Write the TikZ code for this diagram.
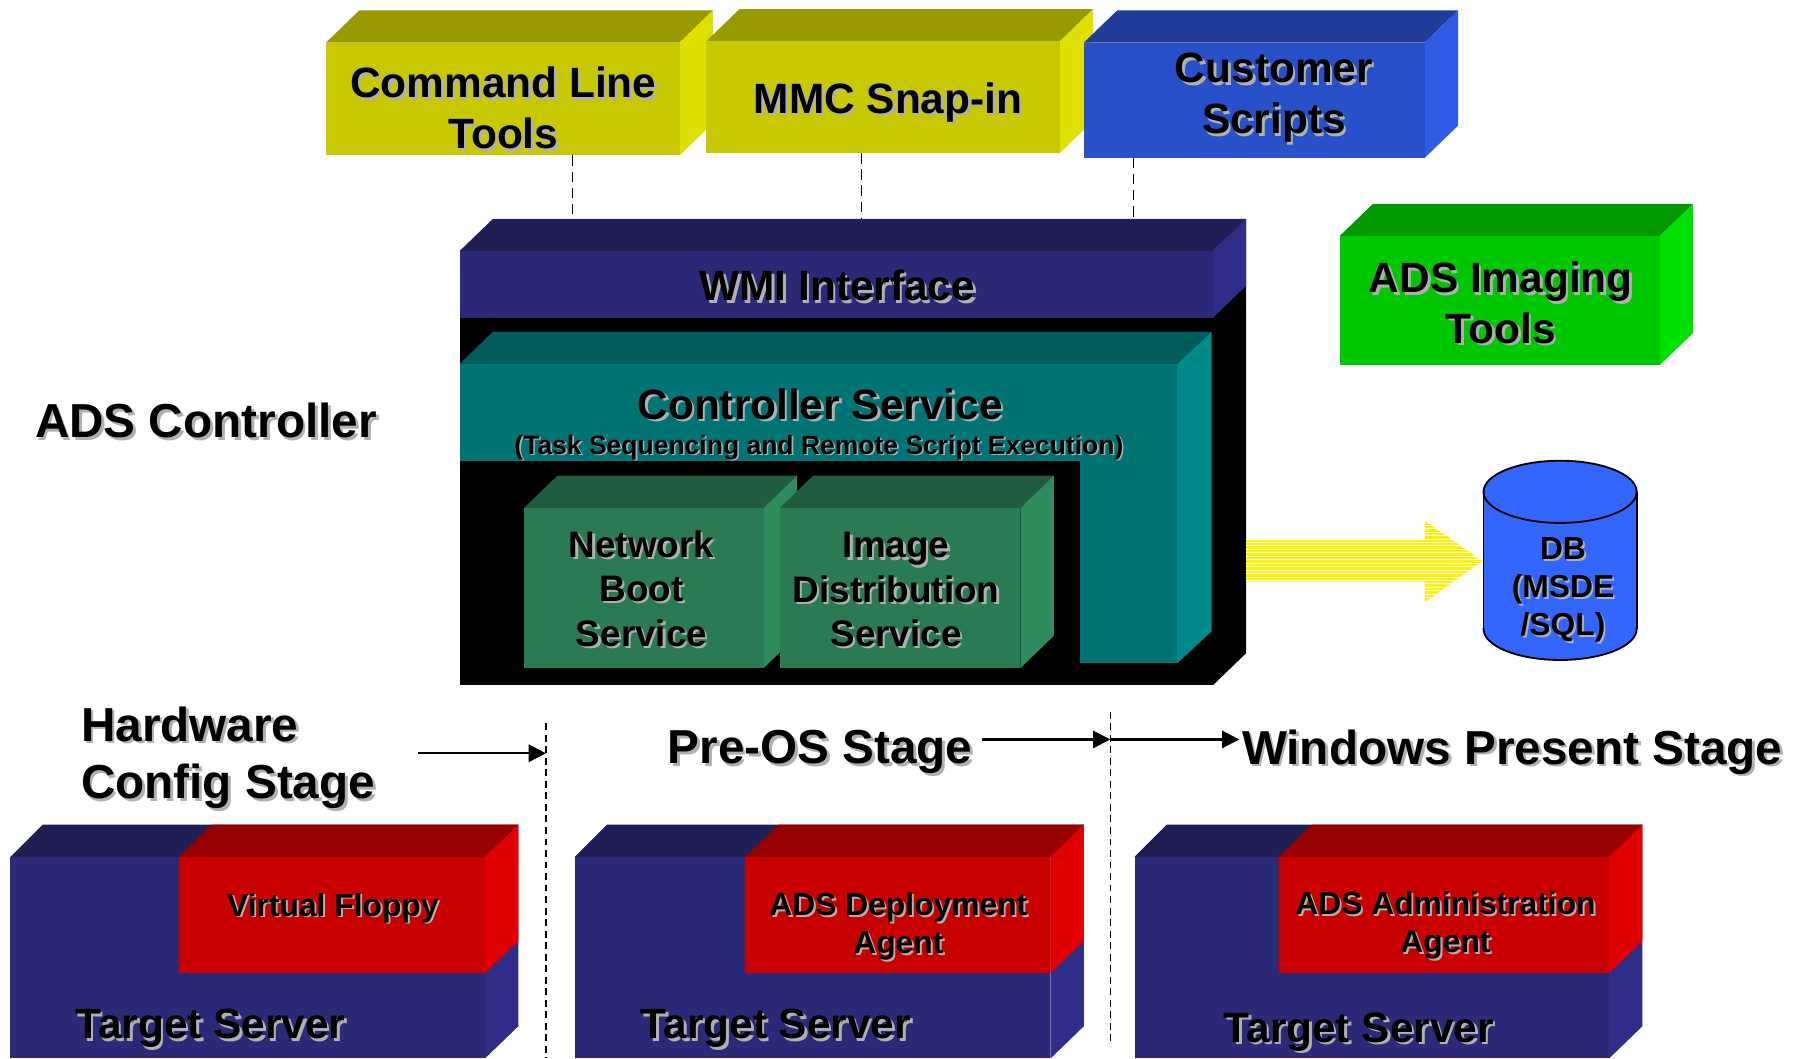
\documentclass[tikz,border=0pt]{standalone}
\usepackage{fontspec}
\setmainfont{Liberation Sans}
\usetikzlibrary{arrows.meta}
\definecolor{olfront}{HTML}{C8C800}
\definecolor{oltop}{HTML}{999900}
\definecolor{olside}{HTML}{E0E000}
\definecolor{csfront}{HTML}{2850C8}
\definecolor{cstop}{HTML}{203C98}
\definecolor{csside}{HTML}{2E5CE6}
\definecolor{nvfront}{HTML}{2A2A78}
\definecolor{nvtop}{HTML}{1F1F55}
\definecolor{nvside}{HTML}{2E2E88}
\definecolor{tlfront}{HTML}{007474}
\definecolor{tltop}{HTML}{005C5C}
\definecolor{tlside}{HTML}{008A8A}
\definecolor{gsfront}{HTML}{2A7A52}
\definecolor{gstop}{HTML}{225C3E}
\definecolor{gsside}{HTML}{2E8C5C}
\definecolor{grfront}{HTML}{00C800}
\definecolor{grtop}{HTML}{009900}
\definecolor{grside}{HTML}{00E000}
\definecolor{rdfront}{HTML}{C80000}
\definecolor{rdtop}{HTML}{990000}
\definecolor{rdside}{HTML}{E00000}
\definecolor{dbblue}{HTML}{3366FF}
\definecolor{shd}{HTML}{B0B0B0}
\newcommand\shtx[1]{\leavevmode\rlap{\kern0.06em\raisebox{-0.06em}{\color{shd}#1}}#1}
% 3D box: name, x1, y1, x2, y2, front, top, side
\newcommand\boxthree[8]{%
  \fill[#7] (#2,#3) -- (#2+29,#3-28) -- (#4+29,#3-28) -- (#4,#3) -- cycle;
  \fill[#8] (#4,#3) -- (#4+29,#3-28) -- (#4+29,#5-28) -- (#4,#5) -- cycle;
  \fill[#6] (#2,#3) rectangle (#4,#5);
  \coordinate (#1-nw) at (#2,#3);
  \coordinate (#1-se) at (#4,#5);}
% target server: x left, red left, right
\newcommand\serverbox[3]{%
  \fill[nvtop] (#1,744) -- (#1+28,716) -- (#3+29,716) -- (#3,744) -- cycle;
  \fill[nvside] (#3,744) -- (#3+29,716) -- (#3+29,891) -- (#3,919) -- cycle;
  \fill[nvfront] (#1,744) rectangle (#3,919);
  \fill[rdtop] (#2,744) -- (#2+29,716) -- (#3+29,716) -- (#3,744) -- cycle;
  \fill[rdside] (#3,744) -- (#3+29,716) -- (#3+29,817) -- (#3,845) -- cycle;
  \fill[rdfront] (#2,744) rectangle (#3,845);}
\begin{document}
\begin{tikzpicture}[x=0.5pt,y=-0.5pt,
  txt/.style={inner sep=0pt, align=center},
  tA/.style={txt, font=\fontsize{18.4}{22}\selectfont\bfseries},
  tB/.style={txt, font=\fontsize{20.7}{25}\selectfont\bfseries},
  tC/.style={txt, font=\fontsize{16}{19.25}\selectfont\bfseries},
  tD/.style={txt, font=\fontsize{13.8}{16.6}\selectfont\bfseries},
  tE/.style={txt, font=\fontsize{11.5}{14}\selectfont\bfseries},
  linkdash/.style={black, line width=0.6pt, dash pattern=on 4.5pt off 2.5pt},
  stagedash/.style={black, line width=0.6pt, dash pattern=on 3pt off 2pt},
  arr/.style={black, line width=1pt, -{Triangle[length=7.5pt,width=7.5pt]}}]
\useasboundingbox (0,0) rectangle (1568,919);
\clip (0,0) rectangle (1568,919);

% ---- top tool boxes
\boxthree{clt}{283}{37}{590}{135}{olfront}{oltop}{olside}
\boxthree{mmc}{613}{36}{920}{133}{olfront}{oltop}{olside}
\boxthree{cs}{941}{37}{1237}{137}{csfront}{cstop}{csside}
\node[tA] (clttext) at (437,95) {\shtx{Command Line}\\\shtx{Tools}};
\node[tA] (mmctext) at (771,90) {\shtx{MMC Snap-in}};
\node[tA] (cstext) at (1106,86) {\shtx{Customer}\\\shtx{Scripts}};

% ---- ADS Imaging Tools
\boxthree{img}{1163}{205}{1441}{317}{grfront}{grtop}{grside}
\node[tA] (imgtext) at (1303,264) {\shtx{ADS Imaging}\\\shtx{Tools}};

% ---- controller body
\fill[black] (1053,218) -- (1082,190) -- (1082,567) -- (1053,595) -- cycle;
\fill[nvtop] (399,218) -- (428,190) -- (1082,190) -- (1053,218) -- cycle;
\fill[nvside] (1053,218) -- (1082,190) -- (1082,248) -- (1053,276) -- cycle;
\fill[black] (399,218) rectangle (1053,595);
\fill[nvfront] (399,218) rectangle (1053,276);
\node[tA] (wmi) at (727,249) {\shtx{WMI Interface}};

% controller service (teal)
\fill[tltop] (399,316) -- (428,288) -- (1052,288) -- (1022,316) -- cycle;
\fill[tlside] (1022,316) -- (1052,288) -- (1052,548) -- (1022,576) -- cycle;
\fill[tlfront] (399,316) rectangle (1022,400);
\fill[tlfront] (938,400) rectangle (1022,576);
\node[tA] (ctrl) at (712,352) {\shtx{Controller Service}};
\node[tE] (ctrlsub) at (711,389) {\shtx{(Task Sequencing and Remote Script Execution)}};

% services
\boxthree{nbs}{455}{441}{663}{580}{gsfront}{gstop}{gsside}
\boxthree{ids}{677}{441}{886}{580}{gsfront}{gstop}{gsside}
\node[tC] (nbstext) at (557,512) {\shtx{Network}\\\shtx{Boot}\\\shtx{Service}};
\node[tC] (idstext) at (778,513) {\shtx{Image}\\\shtx{Distribution}\\\shtx{Service}};

% ---- dashed links from tools to WMI
\coordinate (l1a) at (497,135); \coordinate (l1b) at (497,190);
\coordinate (l2a) at (748,133); \coordinate (l2b) at (748,190);
\coordinate (l3a) at (984,137); \coordinate (l3b) at (984,190);
\draw[linkdash] (l1a) -- (l1b);
\draw[linkdash] (l2a) -- (l2b);
\draw[linkdash] (l3a) -- (l3b);

% ---- DB cylinder
\fill[dbblue] (1288,427) rectangle (1421,546);
\fill[dbblue] (1354.5,546) ellipse [x radius=66.5, y radius=27];
\fill[dbblue] (1354.5,427) ellipse [x radius=66.5, y radius=27];
\draw[line width=0.8pt] (1354.5,427) ellipse [x radius=66.5, y radius=27];
\draw[line width=0.8pt] (1288,427) -- (1288,546) (1421,427) -- (1421,546);
\begin{scope}
  \clip (1280,546) rectangle (1430,590);
  \draw[line width=0.8pt] (1354.5,546) ellipse [x radius=66.5, y radius=27];
\end{scope}
\node[tD] (db) at (1357,513) {\shtx{DB}\\\shtx{(MSDE}\\\shtx{/SQL)}};

% ---- striped yellow arrow
\coordinate (ya) at (1082,487);
\coordinate (yb) at (1287,487);
\begin{scope}
  \clip (1082,468) -- (1237,468) -- (1237,452) -- (yb) -- (1237,523) -- (1237,505) -- (1082,505) -- cycle;
  \fill[yellow] (1078,448) rectangle (1292,528);
  \foreach \yy in {450,453,...,526} \draw[white, line width=0.4pt] (1078,\yy) -- (1292,\yy);
\end{scope}

% ---- labels
\node[tB, anchor=west] (adsc) at (30,366) {\shtx{ADS Controller}};
\node[tB, anchor=west, align=left] (hw) at (70,659) {\shtx{Hardware}\\\shtx{Config Stage}};
\node[tB] (preos) at (712,654) {\shtx{Pre-OS Stage}};
\node[tB, anchor=west] (winp) at (1078,654) {\shtx{Windows Present Stage}};

% ---- stage separators and arrows
\coordinate (s1top) at (474,628); \coordinate (s1bot) at (474,919);
\coordinate (s2top) at (964,618); \coordinate (s2bot) at (964,905);
\draw[stagedash] (s1top) -- (s1bot);
\draw[stagedash] (s2top) -- (s2bot);
\coordinate (a1s) at (363,654); \coordinate (a1e) at (474,654);
\coordinate (a2s) at (853,642); \coordinate (a2e) at (964,642);
\coordinate (a3e) at (1076,642);
\draw[arr] (a1s) -- (a1e);
\draw[arr] (a2s) -- (a2e);
\draw[arr] (a2e) -- (a3e);

% ---- target servers
\serverbox{9}{155}{421}
\serverbox{499}{647}{912}
\serverbox{985}{1110}{1397}
\node[tD] (vf) at (289,789) {\shtx{Virtual Floppy}};
\node[tD] (dep) at (780,805) {\shtx{ADS Deployment}\\\shtx{Agent}};
\node[tD] (adm) at (1255,804) {\shtx{ADS Administration}\\\shtx{Agent}};
\node[tA, anchor=west] (ts1) at (65,894) {\shtx{Target Server}};
\node[tA, anchor=west] (ts2) at (556,894) {\shtx{Target Server}};
\node[tA, anchor=west] (ts3) at (1062,897) {\shtx{Target Server}};
\end{tikzpicture}
\end{document}
